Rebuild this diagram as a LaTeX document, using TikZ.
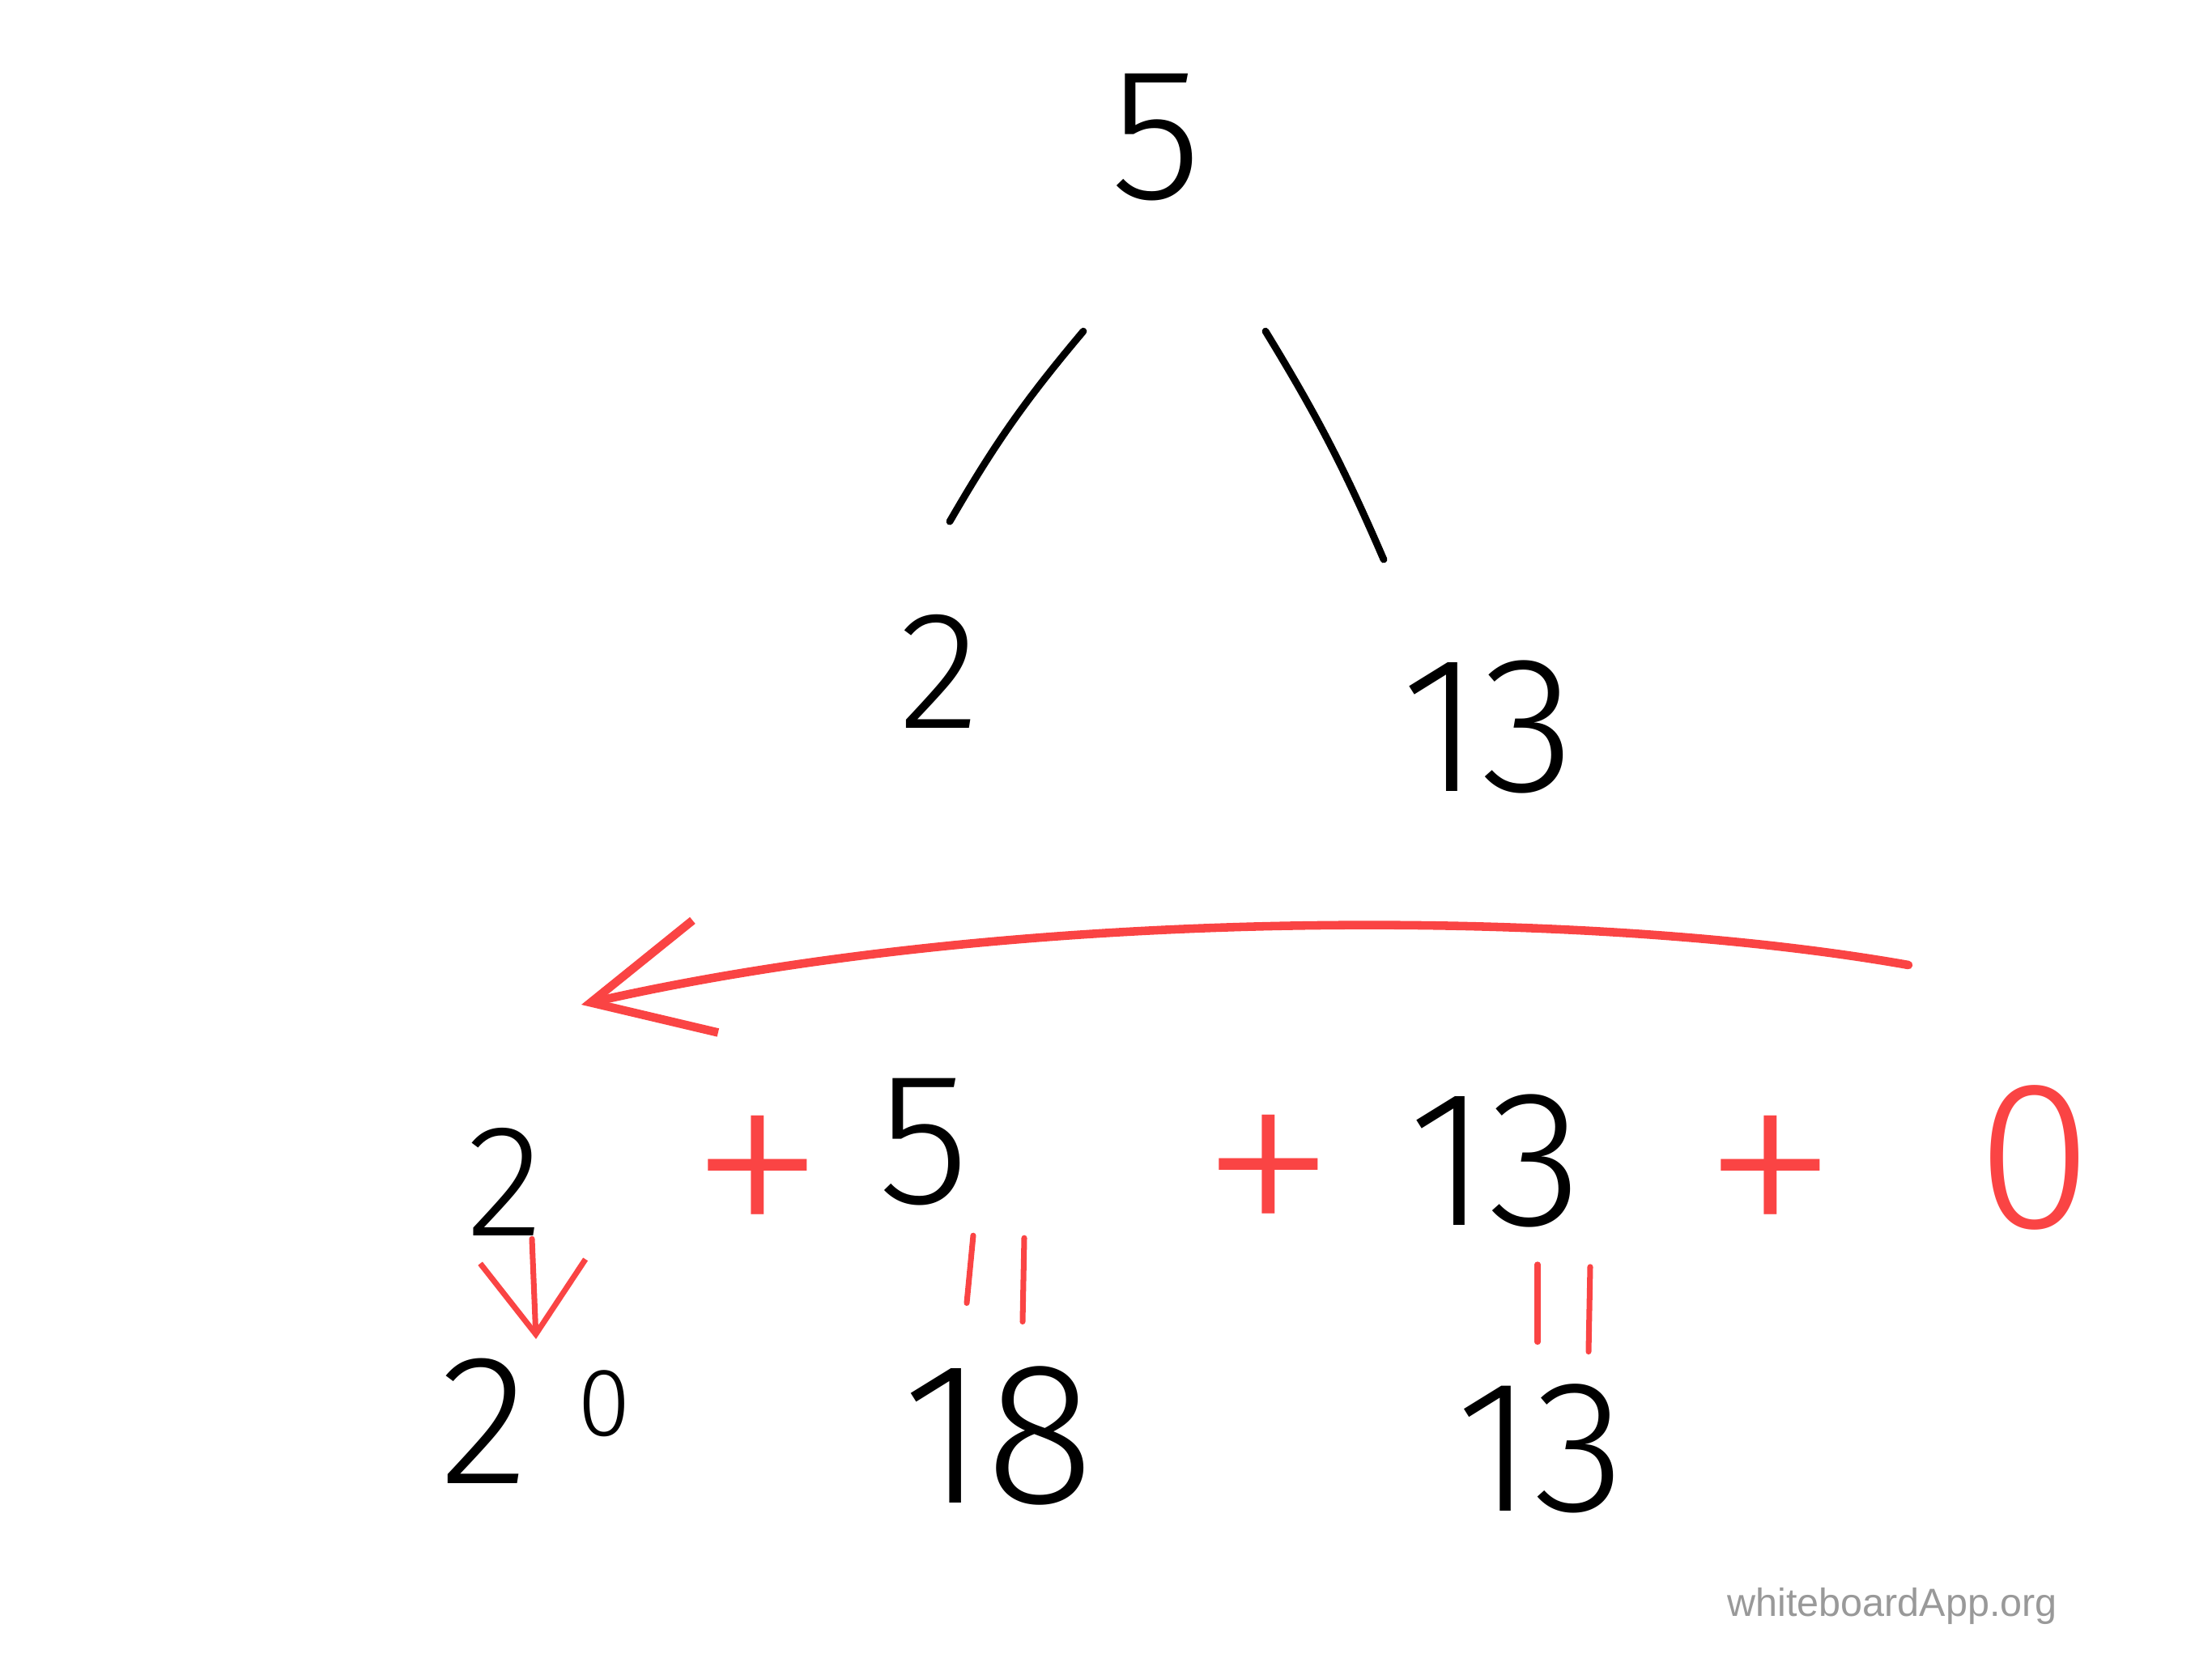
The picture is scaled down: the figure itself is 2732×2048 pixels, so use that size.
\documentclass[tikz,border=0pt]{standalone}
\usepackage{fontspec}
\setmainfont{Liberation Sans}
\IfFontExistsTF{Fira Sans Light}{\newfontfamily\handfont{Fira Sans Light}}{\newfontfamily\handfont{Liberation Sans}}
\IfFontExistsTF{Fira Sans ExtraLight}{\newfontfamily\plusfont{Fira Sans ExtraLight}}{\newfontfamily\plusfont{Liberation Sans}}
\usetikzlibrary{positioning,calc,arrows.meta}
\definecolor{pen}{RGB}{250,68,68}
\definecolor{stamp}{RGB}{153,153,153}
\begin{document}
\begin{tikzpicture}[x=0.01cm, y=-0.01cm, line cap=round, line join=round,
    num/.style={inner sep=0pt, font=\handfont\fontsize{#1}{#1}\selectfont},
    plus/.style={inner sep=0pt, font=\plusfont\fontsize{100pt}{100pt}\selectfont, text=pen},
    branch/.style={line width=2.5pt},
    redpen/.style={draw=pen, line width=3pt},
    eqbar/.style={draw=pen, line width=2pt}]
\useasboundingbox (0,0) rectangle (2732,2048);
% tree
\node[num=66pt] (top) at (1428,170) {5};
\node[num=59pt] (two) at (1160,829) {2};
\node[num=68pt] (thirteen) at (1838,898) {13};
\draw[branch] ($(top.south)+(-90,160)$) to[bend right=5] ($(two.north)+(13,-114)$);
\draw[branch] ($(top.south)+(135,160)$) to[bend left=4] ($(thirteen.north)+(-129,-124)$);
% arrow right to left
\coordinate (from) at (2357,1192);
\coordinate (to) at (718,1241);
\draw[redpen, -{Straight Barb[length=1.45cm, width=1.42cm]}] (from) .. controls (1950,1120) and (1250,1120) .. (to);
% sum row
\node[num=56pt] (sumtwo) at (624,1460) {2};
\node[plus] (plusa) at (936,1467) {+};
\node[num=66pt] (sumfive) at (1141,1411) {5};
\node[plus] (plusb) at (1567,1466) {+};
\node[num=68pt] (sumthirteen) at (1847,1434) {13};
\node[plus] (plusc) at (2187,1467) {+};
\node[num=74pt, text=pen] (sumzero) at (2513,1430) {0};
% values
\node[num=65pt] (pow) at (598,1755) {2};
\node[num=34pt, above right=0.57cm and 0.59cm of pow.south east] (powexp) {0};
\node[num=71pt] (eighteen) at (1233,1773) {18};
\node[num=66pt] (last) at (1903,1789) {13};
\draw[redpen, line width=2pt, -{Straight Barb[length=0.9cm, width=1.3cm]}] ($(sumtwo.south)+(33,3)$) -- ($(pow.north)+(64,-23)$);
\draw[eqbar] ($(sumfive.south)+(61,36)$) -- ($(eighteen.north)+(-39,-77)$);
\draw[eqbar] ($(sumfive.south)+(124,39)$) -- ($(eighteen.north)+(30,-54)$);
\draw[eqbar] ($(sumthirteen.south)+(52,45)$) -- ($(last.north)+(-4,-51)$);
\draw[eqbar] ($(sumthirteen.south)+(117,48)$) -- ($(last.north)+(59,-39)$);
\node[num=13.8pt, font=\fontsize{13.8pt}{13.8pt}\selectfont, text=stamp, anchor=base] (mark) at (2337,1996) {whiteboardApp.org};
\end{tikzpicture}
\end{document}
